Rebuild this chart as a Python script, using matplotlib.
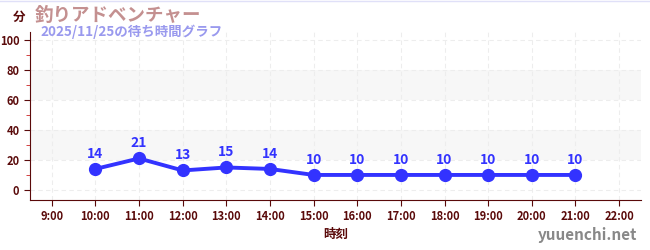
import matplotlib
matplotlib.use("Agg")
import matplotlib.pyplot as plt
from matplotlib.ticker import MultipleLocator

plt.rcParams['font.family'] = ['Noto Sans CJK JP', 'DejaVu Sans']

# data
hours = [10, 11, 12, 13, 14, 15, 16, 17, 18, 19, 20, 21]
waits = [14, 21, 13, 15, 14, 10, 10, 10, 10, 10, 10, 10]
tick_hours = list(range(9, 23))
tick_labels = ['{}:00'.format(h) for h in tick_hours]
title = '釣りアドベンチャー'
subtitle = '2025/11/25の待ち時間グラフ'

dark = '#5a0a0a'
blue = '#3333ff'

fig = plt.figure(figsize=(6.5, 2.5), dpi=100)
ax = fig.add_axes([0.046, 0.2, 0.94, 0.672])

# background bands
for lo, hi in [(20, 40), (60, 80)]:
    ax.axhspan(lo, hi, color='#f7f7f7', zorder=0, lw=0)

ax.plot(hours, waits, color=blue, lw=2.8, marker='o', ms=8.5, zorder=3)
for h, w in zip(hours, waits):
    ax.annotate(str(w), (h, w), xytext=(0, 6), textcoords='offset points',
                ha='center', va='bottom', color=blue, fontsize=10, fontweight='bold')

ax.set_xlim(8.5, 22.5)
ax.set_ylim(-6.7, 105.3)
ax.set_xticks(tick_hours)
ax.set_xticklabels(tick_labels)
ax.set_yticks([0, 20, 40, 60, 80, 100])
ax.yaxis.set_minor_locator(MultipleLocator(10))
ax.grid(True, which='major', color='#ededed', ls=(0, (4, 3)), lw=0.8)
ax.set_axisbelow(True)

for s in ['top', 'right']:
    ax.spines[s].set_visible(False)
ax.spines['left'].set_color(dark)
ax.spines['bottom'].set_color(dark)
ax.tick_params(axis='both', which='major', colors=dark, length=4, labelsize=8)
ax.tick_params(axis='y', which='minor', colors='#cc2222', length=3)
for lab in ax.get_xticklabels() + ax.get_yticklabels():
    lab.set_fontweight('bold')

ax.set_xlabel('時刻', color=dark, fontsize=9, fontweight='bold', labelpad=3)

fig.text(0.02, 0.93, '分', color=dark, fontsize=9, fontweight='bold', va='center')
fig.text(0.054, 0.94, title, color='#c49090', fontsize=13.3, fontweight='bold', va='center')
fig.text(0.062, 0.872, subtitle, color='#9999ee', fontsize=9.7, fontweight='bold', va='center')
fig.text(0.98, 0.06, 'yuuenchi.net', color='#888888', fontsize=11, fontweight='bold',
         ha='right', va='center')
fig.add_artist(plt.Line2D([0, 1], [0.998, 0.998], color='#e0e0f8', lw=1))

fig.savefig('out.png', dpi=100)
